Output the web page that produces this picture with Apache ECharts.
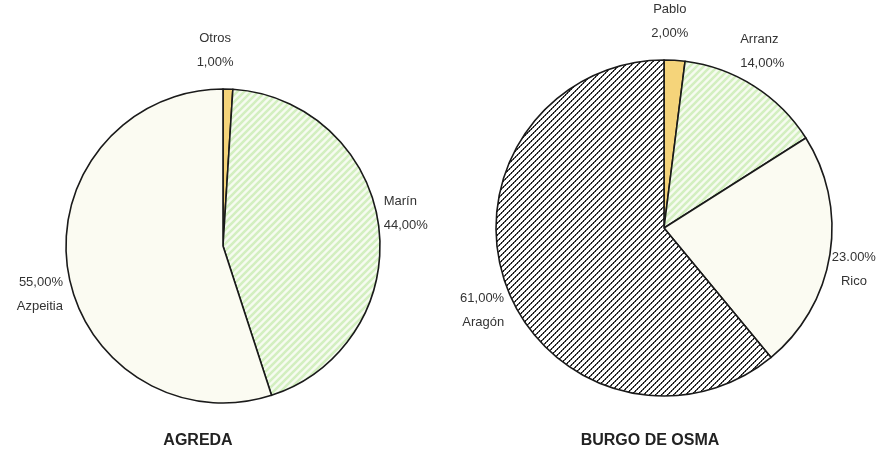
<!DOCTYPE html>
<html>
<head>
<meta charset="utf-8">
<script src="https://cdn.jsdelivr.net/npm/echarts@6/dist/echarts.min.js"></script>
<style>
  html, body { margin: 0; padding: 0; background: #fff; }
  #chart { width: 889px; height: 452px; }
</style>
</head>
<body>
<div id="chart"></div>
<script>
// AGREDA
var agredaNames = ["Otros", "Marín", "Azpeitia"];
var agredaValues = [1, 44, 55];
var agredaPct = ["1,00%", "44,00%", "55,00%"];

// BURGO DE OSMA
var burgoNames = ["Pablo", "Arranz", "Rico", "Aragón"];
var burgoValues = [2, 14, 23, 61];
var burgoPct = ["2,00%", "14,00%", "23.00%", "61,00%"];

var titles = ["AGREDA", "BURGO DE OSMA"];

// label nudges (px) from the default outside position
var agredaNudge = [{ dx: -18, dy: -35, align: "center" }, { dx: -4, dy: -12 }, { dx: 4, dy: 23 }];
var burgoNudge = [{ dx: -10, dy: -35, align: "center" }, { dx: -21, dy: -31 }, { dx: 15, dy: 15, align: "center" }, { dx: 7, dy: 24 }];

function stripeTile(size, bg, fg, width) {
  var c = document.createElement("canvas");
  c.width = c.height = size;
  var ctx = c.getContext("2d");
  ctx.fillStyle = bg;
  ctx.fillRect(0, 0, size, size);
  ctx.strokeStyle = fg;
  ctx.lineWidth = width;
  ctx.beginPath();
  ctx.moveTo(-2, size + 2); ctx.lineTo(size + 2, -2);
  ctx.moveTo(-2, 2); ctx.lineTo(2, -2);
  ctx.moveTo(size - 2, size + 2); ctx.lineTo(size + 2, size - 2);
  ctx.stroke();
  return c;
}

function dotTile(size) {
  var c = document.createElement("canvas");
  c.width = c.height = size;
  var ctx = c.getContext("2d");
  ctx.fillStyle = "#ffffff";
  ctx.fillRect(0, 0, size, size);
  for (var i = 0; i < size; i++) {
    ctx.fillStyle = i % 2 ? "#111" : "#444";
    ctx.fillRect(i, size - 1 - i, 1, 1);
    ctx.fillStyle = i % 2 ? "#666" : "#222";
    ctx.fillRect((i + 1) % size, size - 1 - i, 1, 1);
  }
  return c;
}

var yellow = "#f5d47a";
var cream = "#fbfbf2";
var green = { image: stripeTile(7, "#f6fbf0", "#d3efc0", 2.6), repeat: "repeat" };
var hatch = { image: dotTile(6), repeat: "repeat" };

var agredaColors = [yellow, green, cream];
var burgoColors = [yellow, green, cream, hatch];

function makePie(names, values, pcts, colors, nudges, center, radius) {
  var total = values.reduce(function (a, b) { return a + b; }, 0);
  var data = names.map(function (n, i) {
    return { name: n, value: values[i], itemStyle: { color: colors[i] } };
  });
  return {
    type: "pie",
    center: center,
    radius: radius,
    startAngle: 90,
    clockwise: true,
    avoidLabelOverlap: false,
    silent: true,
    itemStyle: { borderColor: "#1a1a1a", borderWidth: 1.6 },
    label: {
      show: true,
      position: "outside",
      color: "#333",
      fontSize: 13,
      lineHeight: 24,
      fontFamily: "Liberation Sans",
      formatter: function (p) {
        var before = 0;
        for (var k = 0; k < p.dataIndex; k++) before += values[k];
        var mid = (before + values[p.dataIndex] / 2) / total * 360;
        var upper = mid < 90 || mid > 270;
        return upper ? p.name + "\n" + pcts[p.dataIndex] : pcts[p.dataIndex] + "\n" + p.name;
      }
    },
    labelLine: { show: false, length: 4, length2: 0 },
    labelLayout: function (params) {
      var n = nudges[params.dataIndex];
      var out = { dx: n.dx, dy: n.dy };
      if (n.align) out.align = n.align;
      return out;
    },
    data: data
  };
}

var chart = echarts.init(document.getElementById("chart"));
var titleStyle = { fontSize: 16, fontWeight: "bold", color: "#222", fontFamily: "Liberation Sans" };
chart.setOption({
  animation: false,
  backgroundColor: "#fff",
  title: [
    { text: titles[0], left: 193, top: 428, textAlign: "center", textStyle: titleStyle },
    { text: titles[1], left: 645, top: 428, textAlign: "center", textStyle: titleStyle }
  ],
  series: [
    makePie(agredaNames, agredaValues, agredaPct, agredaColors, agredaNudge, [223, 246], 157),
    makePie(burgoNames, burgoValues, burgoPct, burgoColors, burgoNudge, [664, 228], 168)
  ]
});
</script>
</body>
</html>
